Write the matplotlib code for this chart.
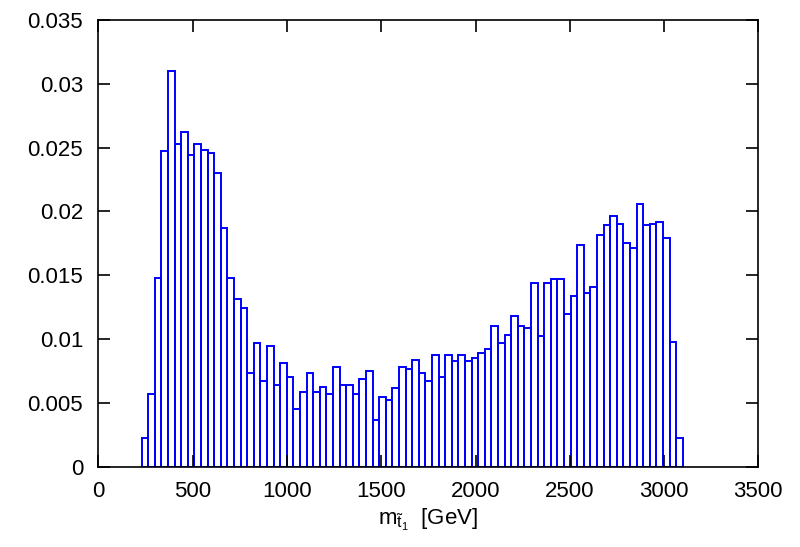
import numpy as np
import matplotlib
matplotlib.use('Agg')
import matplotlib.pyplot as plt

# stop mass distribution, 35 GeV bins starting at 229 GeV
bin_start = 229.0
bin_width = 35.0
heights = [
    0.00227, 0.00567, 0.01476, 0.02474, 0.03103, 0.02531, 0.02625, 0.02445,
    0.02531, 0.02484, 0.02458, 0.02304, 0.01870, 0.01476, 0.01316, 0.01244,
    0.00737, 0.00967, 0.00674, 0.00948, 0.00643, 0.00815, 0.00700, 0.00452,
    0.00583, 0.00737, 0.00583, 0.00627, 0.00567, 0.00779, 0.00638, 0.00638,
    0.00567, 0.00687, 0.00748, 0.00368, 0.00546, 0.00520, 0.00614, 0.00779,
    0.00766, 0.00838, 0.00737, 0.00674, 0.00878, 0.00700, 0.00878, 0.00828,
    0.00878, 0.00828, 0.00854, 0.00889, 0.00920, 0.01103, 0.00967, 0.01030,
    0.01183, 0.01103, 0.01089, 0.01442, 0.01027, 0.01442, 0.01473, 0.01473,
    0.01197, 0.01335, 0.01740, 0.01361, 0.01408, 0.01813, 0.01891, 0.01964,
    0.01904, 0.01750, 0.01716, 0.02056, 0.01891, 0.01904, 0.01917, 0.01794,
    0.00979, 0.00227,
]
xticks = [0, 500, 1000, 1500, 2000, 2500, 3000, 3500]
yticks = [0, 0.005, 0.01, 0.015, 0.02, 0.025, 0.03, 0.035]
ytick_labels = ['0', '0.005', '0.01', '0.015', '0.02', '0.025', '0.03', '0.035']

plt.rcParams['font.family'] = ['Liberation Sans', 'DejaVu Sans']
plt.rcParams['mathtext.fontset'] = 'custom'
plt.rcParams['mathtext.rm'] = 'Liberation Sans'
plt.rcParams['mathtext.it'] = 'Liberation Sans:italic'

fig = plt.figure(figsize=(8.0, 5.47), dpi=100)
ax = fig.add_axes([0.1231, 0.1468, 0.8248, 0.8166])

left_edges = bin_start + bin_width * np.arange(len(heights))
ax.bar(left_edges, heights, width=bin_width, align='edge', fill=False,
       edgecolor=(0, 0, 1), linewidth=1.4)

ax.set_xlim(0, 3500)
ax.set_ylim(0, 0.035)
ax.set_xticks(xticks)
ax.set_yticks(yticks)
ax.set_yticklabels(ytick_labels)
ax.tick_params(direction='in', length=8.5, width=1.2, labelsize=16,
               top=True, right=True, colors='black')
ax.tick_params(axis='x', pad=10)
ax.tick_params(axis='y', pad=11)
for s in ax.spines.values():
    s.set_linewidth(1.2)

ax.set_xlabel(r'm$_{\tilde{\mathrm{t}}_1}$  [GeV]', fontsize=16, labelpad=4)

fig.savefig('out.png', dpi=100)
